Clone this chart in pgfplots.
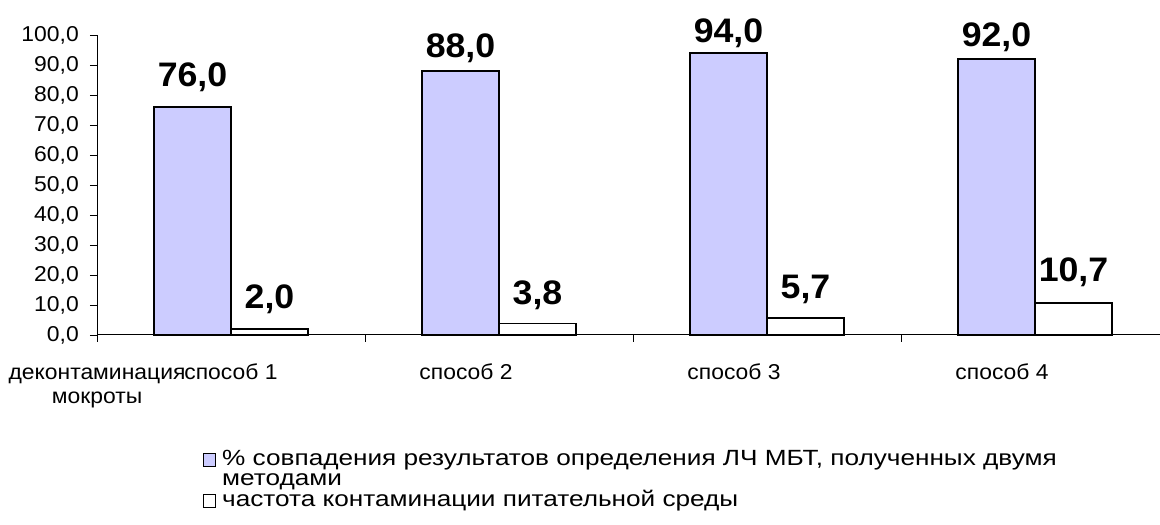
\documentclass[border=0pt]{standalone}
\usepackage{fontspec}
\setmainfont{Liberation Sans}
\newfontfamily\tickf[FakeStretch=1.065]{Liberation Sans}
\newfontfamily\legf[FakeStretch=1.19]{Liberation Sans}
\newfontfamily\bigf[FakeStretch=1.05]{Liberation Sans}
\usepackage{pgfplots}
\pgfplotsset{compat=1.18}
\definecolor{barblue}{RGB}{204,204,255}
\newcommand\regfont{\tickf\fontsize{21.5}{24}\selectfont}
\newcommand\legfont{\legf\fontsize{22}{20}\selectfont}
\newcommand\valfont{\bigf\bfseries\fontsize{34}{34}\selectfont}
\pgfkeys{/pgf/number format/.cd, fixed, fixed zerofill, precision=1, use comma, assume math mode=true}
\pgfplotsset{
  lowbox/.style={legend image code/.code={\draw[##1, line width=1.2pt] (0pt,-1pt) rectangle (12pt,12pt);}},
  upbox/.style={legend image code/.code={\draw[##1, line width=1.2pt] (0pt,19pt) rectangle (12pt,32pt);}},
}

\begin{document}
\begin{tikzpicture}
\useasboundingbox (0,0) rectangle (1160pt,525pt);
\begin{axis}[
  at={(97pt,190pt)}, anchor=south west,
  scale only axis, width=1063pt, height=300pt,
  xmin=-0.5, xmax=3.4664, ymin=0, ymax=100,
  clip=false,
  axis x line*=bottom, axis y line*=left,
  axis line style={line width=1pt, -},
  ytick={0,10,...,100},
  xtick={0,0.877,1.877,2.877},
  xticklabels={способ 1, способ 2, способ 3, способ 4},
  minor xtick={-0.5,0.5,1.5,2.5},
  major x tick style={draw=none},
  minor x tick style={draw=black, line width=0.8pt},
  tick align=outside,
  major tick length=7pt,
  minor tick length=7pt,
  major y tick style={line width=0.8pt, black},
  yticklabel style={font=\regfont, anchor=east, inner sep=0pt, xshift=-11pt,
    /pgf/number format/fixed, /pgf/number format/fixed zerofill,
    /pgf/number format/precision=1, /pgf/number format/use comma,
    /pgf/number format/assume math mode=true},
  xticklabel style={font=\regfont, anchor=base, yshift=-38pt},
  ybar=0pt, bar width=77pt,
  nodes near coords,
  nodes near coords style={font=\valfont, anchor=base, inner sep=0pt,
    /pgf/number format/fixed, /pgf/number format/fixed zerofill,
    /pgf/number format/precision=1, /pgf/number format/use comma,
    /pgf/number format/assume math mode=true},
  legend style={at={(0.0997,-0.377)}, anchor=north west, draw=none, fill=none,
    inner sep=0pt, outer sep=0pt, font=\legfont, row sep=-1pt, column sep=4pt,
    cells={anchor=base west, align=left, inner ysep=0pt}},
]
\addplot[draw=black, line width=1.5pt, fill=barblue, upbox,
  visualization depends on={\thisrow{off}\as\labeloff},
  nodes near coords style={yshift=\labeloff pt}]
  table[x=x, y=y] {
x y off
0 76 20
1 88 13
2 94 10
3 92 12
};
\addplot[draw=black, line width=1.5pt, fill=white, lowbox,
  visualization depends on={\thisrow{off}\as\labeloff},
  nodes near coords style={yshift=\labeloff pt}]
  table[x=x, y=y] {
x y off
0 2.0 20
1 3.8 19
2 5.7 19
3 10.7 21
};
\legend{{\% совпадения результатов определения ЛЧ МБТ, полученных двумя\\методами},
        {частота контаминации питательной среды}}
\node[font=\regfont, align=center, anchor=base, inner sep=0pt] at (axis cs:-0.5,0) [yshift=-68pt] {деконтаминация\\мокроты};
\end{axis}
\end{tikzpicture}
\end{document}
